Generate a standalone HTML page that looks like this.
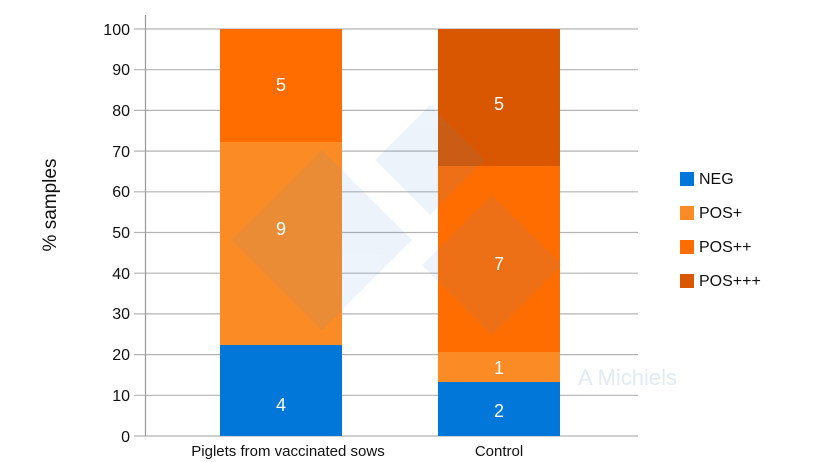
<!DOCTYPE html>
<html><head><meta charset="utf-8"><style>html,body{margin:0;padding:0;background:#fff}svg{display:block}</style></head>
<body>
<svg width="820" height="462" viewBox="0 0 820 462" xmlns="http://www.w3.org/2000/svg" font-family="Liberation Sans, Arial, sans-serif">
<g stroke="#b3b3b3" stroke-width="1.2">
<line x1="134" x2="638" y1="29" y2="29"/>
<line x1="134" x2="638" y1="69.7" y2="69.7"/>
<line x1="134" x2="638" y1="110.4" y2="110.4"/>
<line x1="134" x2="638" y1="151.1" y2="151.1"/>
<line x1="134" x2="638" y1="191.8" y2="191.8"/>
<line x1="134" x2="638" y1="232.5" y2="232.5"/>
<line x1="134" x2="638" y1="273.2" y2="273.2"/>
<line x1="134" x2="638" y1="313.9" y2="313.9"/>
<line x1="134" x2="638" y1="354.6" y2="354.6"/>
<line x1="134" x2="638" y1="395.3" y2="395.3"/>
<line x1="134" x2="638" y1="436" y2="436"/>
</g>
<line x1="145.5" x2="145.5" y1="15" y2="436" stroke="#999" stroke-width="1.2"/>
<g font-size="16" fill="#111" text-anchor="end">
<text x="130" y="35">100</text><text x="130" y="75">90</text><text x="130" y="116">80</text><text x="130" y="157">70</text><text x="130" y="197">60</text><text x="130" y="238">50</text><text x="130" y="279">40</text><text x="130" y="319">30</text><text x="130" y="360">20</text><text x="130" y="401">10</text><text x="130" y="442">0</text>
</g>
<text transform="translate(56,205) rotate(-90)" font-size="19" fill="#111" text-anchor="middle">% samples</text>
<rect x="220" y="345" width="122" height="91" fill="#0277da"/>
<rect x="220" y="142" width="122" height="203" fill="#fb8b24"/>
<rect x="220" y="29" width="122" height="113" fill="#ff6d00"/>
<rect x="438" y="382" width="122" height="54" fill="#0277da"/>
<rect x="438" y="352" width="122" height="30" fill="#fb8b24"/>
<rect x="438" y="166" width="122" height="186" fill="#ff6d00"/>
<rect x="438" y="29" width="122" height="137" fill="#d95700"/>
<g opacity="0.1" fill="#5b8fd6">
<polygon points="322,150 412,240 322,330 232,240"/>
<polygon points="430,105 485,160 430,215 375,160"/>
<polygon points="492,195 562,265 492,335 422,265"/>
</g>
<text x="578" y="385" font-size="22" fill="#e3eaf4">A Michiels</text>
<g font-size="18" fill="#fff" text-anchor="middle">
<text x="281" y="411">4</text><text x="281" y="235">9</text><text x="281" y="91">5</text>
<text x="499" y="417">2</text><text x="499" y="374">1</text><text x="499" y="270">7</text><text x="499" y="110">5</text>
</g>
<g font-size="15" fill="#111" text-anchor="middle">
<text x="288" y="456">Piglets from vaccinated sows</text>
<text x="499" y="456">Control</text>
</g>
<rect x="680" y="172" width="14" height="14" fill="#0277da"/>
<rect x="680" y="206" width="14" height="14" fill="#fb8b24"/>
<rect x="680" y="240" width="14" height="14" fill="#ff6d00"/>
<rect x="680" y="274" width="14" height="14" fill="#d95700"/>
<g font-size="16" fill="#111">
<text x="699" y="184">NEG</text><text x="699" y="218">POS+</text><text x="699" y="252">POS++</text><text x="699" y="286">POS+++</text>
</g>
</svg>
</body></html>
